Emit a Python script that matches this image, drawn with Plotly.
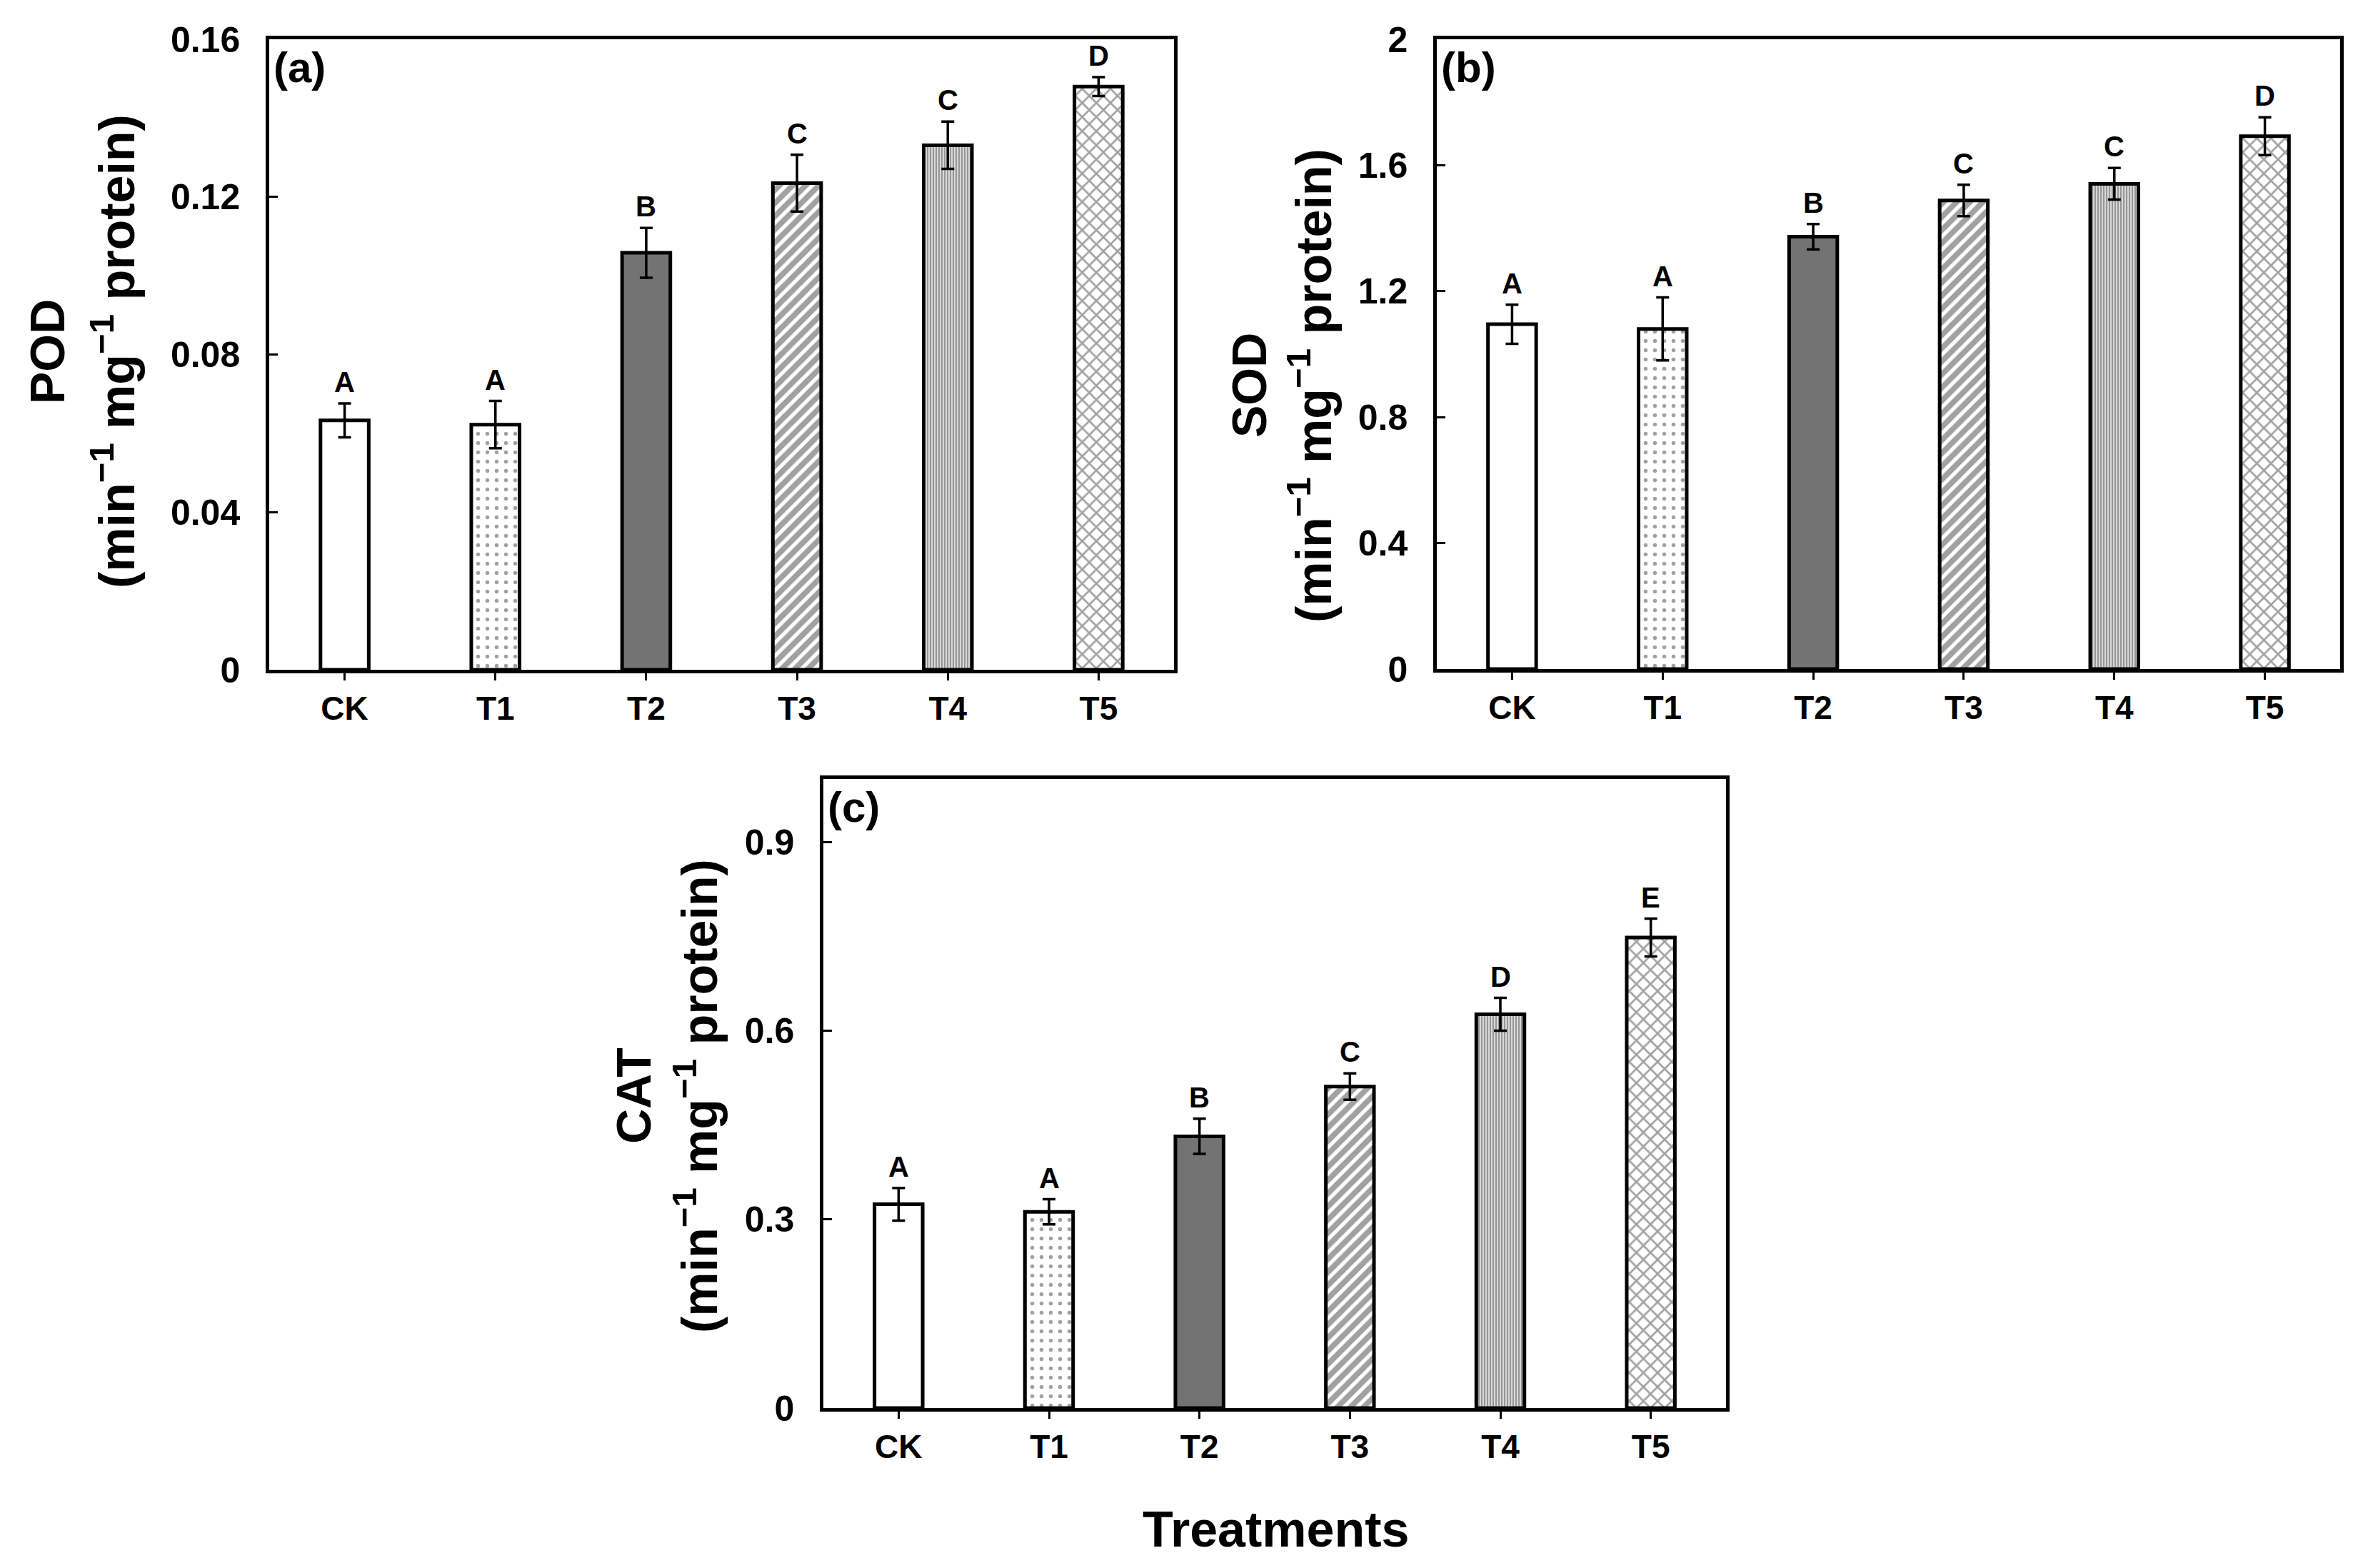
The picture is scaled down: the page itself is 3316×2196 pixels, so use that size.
import plotly.graph_objects as go

# the page body adds an 8px margin, so the figure is a bit smaller than the window
W, H = 3300, 2180
OFF = 8

# data
treatments = ["CK", "T1", "T2", "T3", "T4", "T5"]

pod_mean = [0.0633, 0.0622, 0.1058, 0.1235, 0.1331, 0.1480]
pod_err = [0.0043, 0.0060, 0.0063, 0.0072, 0.0060, 0.0024]
pod_letters = ["A", "A", "B", "C", "C", "D"]

sod_mean = [1.095, 1.080, 1.373, 1.488, 1.541, 1.692]
sod_err = [0.062, 0.100, 0.040, 0.050, 0.050, 0.060]
sod_letters = ["A", "A", "B", "C", "C", "D"]

cat_mean = [0.324, 0.312, 0.432, 0.511, 0.626, 0.748]
cat_err = [0.026, 0.020, 0.028, 0.021, 0.026, 0.030]
cat_letters = ["A", "A", "B", "C", "D", "E"]

# bar fills (one per treatment)
bar_color = ["white", "white", "#737373", "white", "#d8d8d8", "white"]
pat_shape = ["", ".", "", "/", "|", "x"]
pat_fg = ["black", "#6a6a6a", "#737373", "black", "#6a6a6a", "#111111"]
pat_bg = ["white", "white", "#737373", "white", "#d8d8d8", "white"]
pat_size = [10, 13, 10, 13, 4, 14]
pat_solid = [0.2, 0.14, 0.2, 0.6, 0.45, 0.34]

FONT = "Liberation Sans, Arial, sans-serif"


def px(x):
    return (x - OFF) / W


def py(y):
    return 1 - (y - OFF) / H


fig = go.Figure()

panels = [
    # axis suffix, means, errs, letters, x px domain, y px domain, range, dtick, label
    ("", pod_mean, pod_err, pod_letters, (377, 1644), (55, 938), [0, 0.16], 0.04, "(a)"),
    ("2", sod_mean, sod_err, sod_letters, (2012, 3277), (55, 937), [0, 2], 0.4, "(b)"),
    ("3", cat_mean, cat_err, cat_letters, (1153, 2417), (1091, 1972), [0, 1.0], 0.3, "(c)"),
]

for sfx, mean, err, letters, xd, yd, yr, dt, lab in panels:
    fig.add_trace(go.Bar(
        x=treatments, y=mean,
        xaxis="x" + sfx, yaxis="y" + sfx,
        width=0.32,
        marker=dict(
            color=bar_color,
            line=dict(color="black", width=5),
            pattern=dict(shape=pat_shape, fgcolor=pat_fg, bgcolor=pat_bg,
                         size=pat_size, solidity=pat_solid),
        ),
        error_y=dict(type="data", array=err, visible=True,
                     color="black", thickness=3.5, width=9),
        showlegend=False,
    ))

    xa = dict(
        domain=[px(xd[0]), px(xd[1])],
        anchor="y" + sfx,
        range=[-0.5, 5.5],
        automargin=False,
        showline=True, linecolor="black", linewidth=4.5, mirror=True,
        ticks="outside", ticklen=10, tickwidth=3, tickcolor="black",
        showgrid=False, zeroline=False,
        tickfont=dict(family=FONT, size=46, color="black", weight="bold"),
        ticklabelstandoff=0,
    )
    ya = dict(
        domain=[py(yd[1]), py(yd[0])],
        anchor="x" + sfx,
        range=yr, dtick=dt, tick0=0,
        automargin=False,
        showline=True, linecolor="black", linewidth=4.5, mirror=True,
        ticks="inside", ticklen=12, tickwidth=3, tickcolor="black",
        showgrid=False, zeroline=False,
        tickfont=dict(family=FONT, size=50, color="black", weight="bold"),
        ticklabelstandoff=26,
    )
    fig.layout["xaxis" + sfx] = xa
    fig.layout["yaxis" + sfx] = ya

    # significance letters above error bars
    for t, m, e, l in zip(treatments, mean, err, letters):
        fig.add_annotation(
            x=t, y=m + e, xref="x" + sfx, yref="y" + sfx,
            text="<b>%s</b>" % l, showarrow=False,
            yanchor="bottom", yshift=6,
            font=dict(family=FONT, size=40, color="black"),
        )

    # panel label
    fig.add_annotation(
        x=0, y=1, xref="x%s domain" % sfx, yref="y%s domain" % sfx,
        text="<b>%s</b>" % lab, showarrow=False,
        xanchor="left", yanchor="top", xshift=4, yshift=-4,
        font=dict(family=FONT, size=60, color="black"),
    )

# y-axis titles (two lines each)
titles = [
    ("POD", 66, 159, 492),
    ("SOD", 1749, 1835, 540),
    ("CAT", 887, 975, 1535),
]
unit = "(min<sup>−1</sup> mg<sup>−1</sup> protein)"
for name, x1, x2, yc in titles:
    fig.add_annotation(
        x=px(x1), y=py(yc), xref="paper", yref="paper",
        text="<b>%s</b>" % name, textangle=-90, showarrow=False,
        xanchor="center", yanchor="middle",
        font=dict(family=FONT, size=68, color="black"),
    )
    fig.add_annotation(
        x=px(x2), y=py(yc), xref="paper", yref="paper",
        text="<b>%s</b>" % unit, textangle=-90, showarrow=False,
        xanchor="center", yanchor="middle",
        font=dict(family=FONT, size=70, color="black"),
    )

fig.add_annotation(
    x=px(1786), y=py(2142), xref="paper", yref="paper",
    text="<b>Treatments</b>", showarrow=False,
    xanchor="center", yanchor="middle",
    font=dict(family=FONT, size=70, color="black"),
)

fig.update_layout(
    width=W, height=H,
    margin=dict(l=0, r=0, t=0, b=0),
    paper_bgcolor="white", plot_bgcolor="white",
)

fig.write_html("out.html")
